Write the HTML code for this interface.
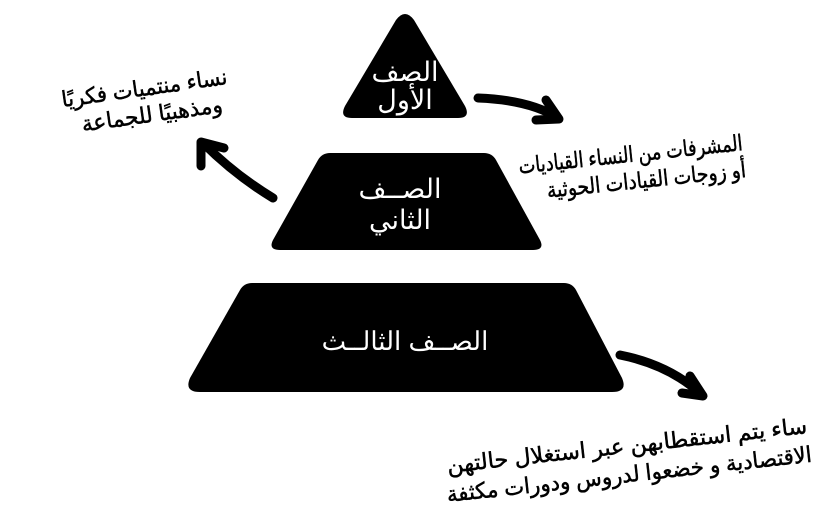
<!DOCTYPE html>
<html><head><meta charset="utf-8"><style>
html,body{margin:0;padding:0;background:#fff;}
svg{display:block;}
text{font-family:"Liberation Sans","Noto Sans CJK SC",sans-serif;}
</style></head><body>
<svg width="820" height="512" viewBox="0 0 820 512">
<rect width="820" height="512" fill="#fff"/>
<!-- pyramid -->
<path d="M396,20 Q405,8 414,20 L465,106 Q471,118 458,118 L352,118 Q339,118 345,106 Z" fill="#000"/>
<path d="M330,153 L484,153 Q492,153 496,160 L540,240 Q545,250 533,250 L280,250 Q268,250 273,240 L318,160 Q322,153 330,153 Z" fill="#000"/>
<path d="M252,283 L564,283 Q572,283 576,290 L622,378 Q628,392 612,392 L200,392 Q184,392 190,378 L240,290 Q244,283 252,283 Z" fill="#000"/>
<g fill="#fff" font-size="27" text-anchor="middle">
<text x="405" y="81">الصف</text>
<text x="405" y="109">الأول</text>
<text x="400" y="198">الصــف</text>
<text x="400" y="229">الثاني</text>
<text x="405" y="350" font-size="26">الصــف الثالــث</text>
</g>
<!-- arrows -->
<g stroke="#000" stroke-width="9" stroke-linecap="round" stroke-linejoin="round" fill="none">
<path d="M478,98 Q530,100 558,118"/>
<path d="M546,100 L559,119 L536,120"/>
<path d="M273,198 Q235,175 203,143"/>
<path d="M201,166 L201,142 L224,148"/>
<path d="M620,355 Q670,365 702,395"/>
<path d="M690,376 L703,396 L682,393"/>
</g>
<!-- labels -->
<g fill="#000" stroke="#000" stroke-width="0.5" font-size="22" text-anchor="middle">
<g transform="rotate(-8 150 107)">
<text x="147" y="95" textLength="167" lengthAdjust="spacingAndGlyphs">نساء منتميات فكريًا</text>
<text x="151" y="122" textLength="142" lengthAdjust="spacingAndGlyphs">ومذهبيًا للجماعة</text>
</g>
<g transform="rotate(-6 640 168)">
<text x="632" y="161" textLength="225" lengthAdjust="spacingAndGlyphs">المشرفات من النساء القياديات</text>
<text x="645" y="188" textLength="200" lengthAdjust="spacingAndGlyphs">أو زوجات القيادات الحوثية</text>
</g>
<g transform="rotate(-6.3 628 464)">
<text x="629" y="453" textLength="362" lengthAdjust="spacingAndGlyphs">ساء يتم استقطابهن عبر استغلال حالتهن</text>
<text x="628" y="482" textLength="367" lengthAdjust="spacingAndGlyphs">الاقتصادية و خضعوا لدروس ودورات مكثفة</text>
</g>
</g>
</svg>
</body></html>
